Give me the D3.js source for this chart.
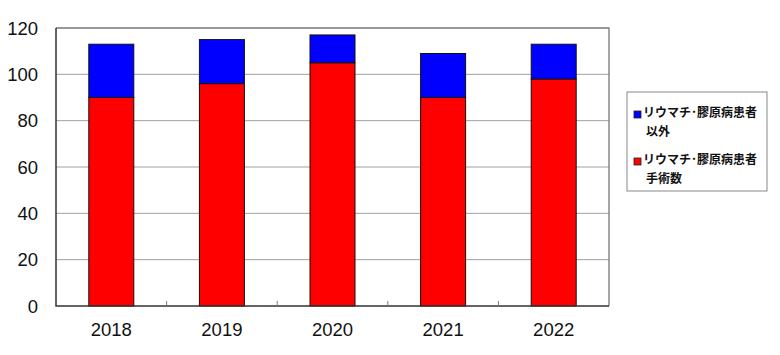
<!DOCTYPE html>
<html>
<head>
<meta charset="utf-8">
<style>
  body { margin: 0; background: #fff; }
  svg { display: block; }
</style>
</head>
<body>
<script src="https://d3js.org/d3.v7.min.js"></script>
<div id="chart"></div>
<script>
  const years = ["2018", "2019", "2020", "2021", "2022"]
  const surgery = [90, 96, 105, 90, 98]     // リウマチ・膠原病患者手術数
  const others = [23, 19, 12, 19, 15]       // リウマチ・膠原病患者以外
  const yTicks = [0, 20, 40, 60, 80, 100, 120]
  const seriesNames = ["リウマチ･膠原病患者\n以外", "リウマチ･膠原病患者\n手術数"]
  const seriesColors = ["#0000ff", "#ff0000"]

  const width = 780
  const height = 355
  const plot = { left: 56, right: 609, top: 28, bottom: 306 }

  const svg = d3.select("#chart").append("svg")
    .attr("width", width).attr("height", height)

  const x = d3.scaleBand().domain(years).range([plot.left, plot.right])
  const y = d3.scaleLinear().domain([0, 120]).range([plot.bottom, plot.top])
  const barW = 45

  // gridlines
  svg.append("g").selectAll("line")
    .data(yTicks.filter(d => d > 0 && d < 120))
    .enter().append("line")
    .attr("x1", plot.left).attr("x2", plot.right)
    .attr("y1", d => y(d)).attr("y2", d => y(d))
    .attr("stroke", "#a0a0a0").attr("stroke-width", 1)

  // frame top / right
  svg.append("path")
    .attr("d", `M${plot.left},${y(120)}H${plot.right}V${plot.bottom}`)
    .attr("fill", "none").attr("stroke", "#777").attr("stroke-width", 1.3)

  // stacked bars
  const stacked = years.map((yr, i) => ({ yr, a: surgery[i], b: others[i] }))
  const bars = svg.append("g")
  bars.selectAll("rect.red").data(stacked).enter().append("rect")
    .attr("class", "red")
    .attr("x", d => x(d.yr) + x.bandwidth() / 2 - barW / 2)
    .attr("width", barW)
    .attr("y", d => y(d.a))
    .attr("height", d => y(0) - y(d.a))
    .attr("fill", seriesColors[1]).attr("stroke", "#111").attr("stroke-width", 1)
  bars.selectAll("rect.blue").data(stacked).enter().append("rect")
    .attr("class", "blue")
    .attr("x", d => x(d.yr) + x.bandwidth() / 2 - barW / 2)
    .attr("width", barW)
    .attr("y", d => y(d.a + d.b))
    .attr("height", d => y(d.a) - y(d.a + d.b))
    .attr("fill", seriesColors[0]).attr("stroke", "#111").attr("stroke-width", 1)

  // left and bottom axis lines
  svg.append("path")
    .attr("d", `M${plot.left},${plot.top}V${plot.bottom}H${plot.right}`)
    .attr("fill", "none").attr("stroke", "#333").attr("stroke-width", 1.5)

  // small category ticks (inside)
  svg.append("g").selectAll("line")
    .data(years.slice(1))
    .enter().append("line")
    .attr("x1", d => x(d)).attr("x2", d => x(d))
    .attr("y1", plot.bottom).attr("y2", plot.bottom - 5)
    .attr("stroke", "#777")

  // y labels
  svg.append("g").selectAll("text")
    .data(yTicks).enter().append("text")
    .attr("x", 38).attr("y", d => y(d) + 6.5)
    .attr("text-anchor", "end")
    .attr("font-family", "Liberation Sans, Arial, sans-serif")
    .attr("font-size", 18.5).attr("fill", "#111")
    .text(d => d)

  // x labels
  svg.append("g").selectAll("text")
    .data(years).enter().append("text")
    .attr("x", d => x(d) + x.bandwidth() / 2).attr("y", 336)
    .attr("text-anchor", "middle")
    .attr("font-family", "Liberation Sans, Arial, sans-serif")
    .attr("font-size", 18.5).attr("fill", "#111")
    .text(d => d)

  // legend
  const lg = svg.append("g")
  lg.append("rect")
    .attr("x", 627).attr("y", 92).attr("width", 140).attr("height", 99)
    .attr("fill", "#fff").attr("stroke", "#888").attr("stroke-width", 1)

  const rowY = [117, 164]
  seriesNames.forEach((name, i) => {
    lg.append("rect")
      .attr("x", 634).attr("y", rowY[i] - 6).attr("width", 7).attr("height", 7)
      .attr("fill", seriesColors[i]).attr("stroke", "#222").attr("stroke-width", 0.8)
    const lines = name.split("\n")
    lines.forEach((t, j) => {
      lg.append("text")
        .attr("x", j === 0 ? 643 : 646)
        .attr("y", rowY[i] + j * 19)
        .attr("font-family", "Noto Sans CJK JP, sans-serif")
        .attr("font-size", 12).attr("font-weight", "bold").attr("fill", "#111")
        .text(t)
    })
  })
</script>
</body>
</html>
